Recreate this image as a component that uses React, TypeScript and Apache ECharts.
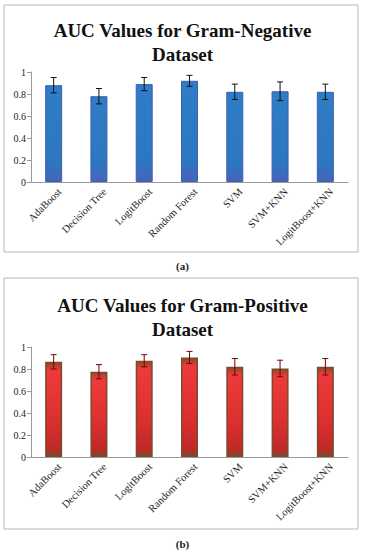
import React, { useEffect, useRef } from "react";
import * as echarts from "echarts";

const categories = ["AdaBoost", "Decision Tree", "LogitBoost", "Random Forest", "SVM", "SVM+KNN", "LogitBoost+KNN"];
const negAUC = [0.88, 0.78, 0.89, 0.92, 0.82, 0.825, 0.82];
const negErr = [0.07, 0.07, 0.06, 0.05, 0.07, 0.085, 0.07];
const posAUC = [0.865, 0.775, 0.875, 0.905, 0.82, 0.805, 0.82];
const posErr = [0.065, 0.065, 0.055, 0.055, 0.075, 0.075, 0.075];
const yTicks = [0, 0.2, 0.4, 0.6, 0.8, 1];

const SERIF = "'Liberation Serif', 'DejaVu Serif', serif";

function errData(vals: number[], errs: number[]) {
  return vals.map((v, i) => [i, v - errs[i], v + errs[i]]);
}

function makeErrRender(color: string) {
  return (params: any, api: any) => {
    const x = api.value(0);
    const lo = api.coord([x, api.value(1)]);
    const hi = api.coord([x, api.value(2)]);
    const hw = 3;
    const style = { stroke: color, lineWidth: 1 };
    return {
      type: "group",
      children: [
        { type: "line", shape: { x1: lo[0], y1: lo[1], x2: hi[0], y2: hi[1] }, style },
        { type: "line", shape: { x1: hi[0] - hw, y1: hi[1], x2: hi[0] + hw, y2: hi[1] }, style },
        { type: "line", shape: { x1: lo[0] - hw, y1: lo[1], x2: lo[0] + hw, y2: lo[1] }, style },
      ],
    };
  };
}

export default function App() {
  const ref = useRef<HTMLDivElement>(null);
  useEffect(() => {
    if (!ref.current) return;
    const chart = echarts.init(ref.current, undefined, { renderer: "svg" });
    const axisColor = "#9a9a9a";
    const gridA = { left: 31, right: 17, top: 72, height: 110 };
    const gridB = { left: 31, right: 17, top: 347, height: 110 };
    const labelShift = 6;
    const xBase = (gridIndex: number) => ({
      type: "category",
      data: categories,
      gridIndex,
      axisLine: { lineStyle: { color: axisColor, width: 1 } },
      axisTick: { length: 4, lineStyle: { color: axisColor } },
      axisLabel: { show: false },
    });
    const xLabel = (gridIndex: number) => ({
      type: "category",
      data: categories,
      gridIndex,
      axisLine: { show: false },
      axisTick: { show: false },
      axisLabel: {
        rotate: 45,
        interval: 0,
        margin: 8,
        color: "#222",
        fontFamily: SERIF,
        fontSize: 10.5,
      },
    });
    const yBase = (gridIndex: number, show = true) => ({
      type: "value",
      gridIndex,
      min: 0,
      max: 1,
      interval: 0.2,
      show,
      splitLine: { show: false },
      axisLine: { show: true, lineStyle: { color: axisColor, width: 1 } },
      axisTick: { show: true, length: 4, lineStyle: { color: axisColor } },
      axisLabel: {
        color: "#222",
        fontFamily: SERIF,
        fontSize: 10,
        margin: 5,
        formatter: (v: number) => (yTicks.includes(Math.round(v * 10) / 10) ? String(Math.round(v * 10) / 10) : ""),
      },
    });
    const captionRich = {
      n: { fontFamily: SERIF, fontSize: 11, color: "#222" },
      b: { fontFamily: SERIF, fontSize: 11, fontWeight: "bold", color: "#222" },
    };

    chart.setOption({
      animation: false,
      backgroundColor: "#ffffff",
      title: [
        {
          text: "AUC Values for Gram-Negative\nDataset",
          left: "center",
          top: 13,
          textStyle: { fontFamily: SERIF, fontWeight: "bold", fontSize: 19, lineHeight: 24, color: "#111" },
        },
        {
          text: "AUC Values for Gram-Positive\nDataset",
          left: "center",
          top: 288,
          textStyle: { fontFamily: SERIF, fontWeight: "bold", fontSize: 19, lineHeight: 24, color: "#111" },
        },
        {
          text: "{n|(}{b|a}{n|)}",
          left: "center",
          top: 255,
          textStyle: { rich: captionRich },
        },
        {
          text: "{n|(}{b|b}{n|)}",
          left: "center",
          top: 533,
          textStyle: { rich: captionRich },
        },
      ],
      graphic: [
        { type: "rect", shape: { x: 4, y: 5, width: 354, height: 247 }, style: { fill: "none", stroke: "#b8b8b8", lineWidth: 1 }, z: -1 },
        { type: "rect", shape: { x: 4, y: 278, width: 354, height: 251 }, style: { fill: "none", stroke: "#b8b8b8", lineWidth: 1 }, z: -1 },
      ],
      grid: [
        gridA,
        gridB,
        { ...gridA, left: gridA.left + labelShift, right: gridA.right - labelShift },
        { ...gridB, left: gridB.left + labelShift, right: gridB.right - labelShift },
      ],
      xAxis: [xBase(0), xBase(1), xLabel(2), xLabel(3)],
      yAxis: [yBase(0), yBase(1), yBase(2, false), yBase(3, false)],
      series: [
        {
          type: "bar",
          xAxisIndex: 0,
          yAxisIndex: 0,
          data: negAUC,
          barWidth: 17,
          itemStyle: {
            color: new echarts.graphic.LinearGradient(0, 0, 0, 1, [
              { offset: 0, color: "#2f7dc6" },
              { offset: 0.8, color: "#2c77c0" },
              { offset: 1, color: "#4a62b8" },
            ]),
            borderColor: "#3d5fb4",
            borderWidth: 1,
          },
        },
        {
          type: "custom",
          xAxisIndex: 0,
          yAxisIndex: 0,
          data: errData(negAUC, negErr),
          renderItem: makeErrRender("#111"),
          z: 5,
        },
        {
          type: "bar",
          xAxisIndex: 1,
          yAxisIndex: 1,
          data: posAUC,
          barWidth: 17,
          itemStyle: {
            color: new echarts.graphic.LinearGradient(0, 0, 0, 1, [
              { offset: 0, color: "#8a4a2c" },
              { offset: 0.08, color: "#ee3a3a" },
              { offset: 0.6, color: "#dc3030" },
              { offset: 0.92, color: "#c02828" },
              { offset: 1, color: "#7a4a2c" },
            ]),
            borderColor: "#7c4a2c",
            borderWidth: 1.5,
          },
        },
        {
          type: "custom",
          xAxisIndex: 1,
          yAxisIndex: 1,
          data: errData(posAUC, posErr),
          renderItem: makeErrRender("#7a0000"),
          z: 5,
        },
      ],
    });
    return () => chart.dispose();
  }, []);
  return (
    <div
      ref={ref}
      style={{ position: "absolute", left: 0, top: 0, width: 365, height: 550, background: "#fff" }}
    />
  );
}
